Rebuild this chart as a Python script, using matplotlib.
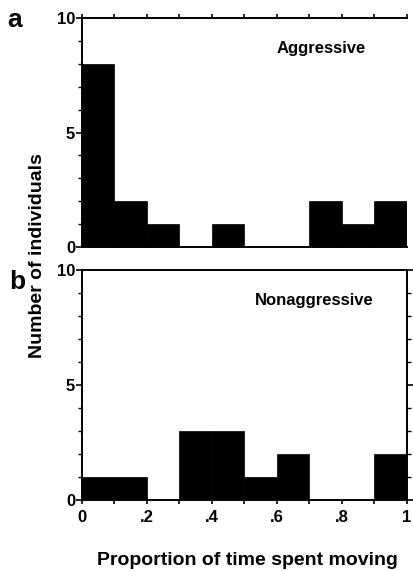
import numpy as np
import matplotlib
matplotlib.use("Agg")
import matplotlib.pyplot as plt
from matplotlib.ticker import MultipleLocator

plt.rcParams["font.family"] = ["Liberation Sans", "DejaVu Sans"]
plt.rcParams["font.weight"] = "bold"

# histogram bins (proportion of time spent moving)
bin_left = [0.0, 0.1, 0.2, 0.3, 0.4, 0.5, 0.6, 0.7, 0.8, 0.9]
bin_width = 0.1

aggressive = [8, 2, 1, 0, 1, 0, 0, 2, 1, 2]
nonaggressive = [1, 1, 0, 3, 3, 1, 2, 0, 0, 2]

x_ticks = [0, 0.2, 0.4, 0.6, 0.8, 1.0]
x_ticklabels = ["0", ".2", ".4", ".6", ".8", "1"]
y_ticks = [0, 5, 10]


def style_axis(ax):
    ax.set_xlim(0, 1)
    ax.set_ylim(0, 10)
    ax.set_yticks(y_ticks)
    ax.yaxis.set_minor_locator(MultipleLocator(1))
    ax.tick_params(axis="y", which="major", direction="out", length=4,
                   width=1.2, labelsize=12, pad=1)
    ax.tick_params(axis="y", which="minor", direction="out", length=3, width=1)
    for s in ax.spines.values():
        s.set_linewidth(1.4)


fig = plt.figure(figsize=(4.14, 5.71), dpi=100)

ax1 = fig.add_axes([0.198, 0.5674, 0.785, 0.401])
ax1.bar(bin_left, aggressive, width=bin_width, align="edge",
        color="black", edgecolor="black", linewidth=0.5)
style_axis(ax1)
ax1.xaxis.set_major_locator(MultipleLocator(0.1))
ax1.spines["right"].set_visible(False)
ax1.tick_params(axis="x", which="major", top=True, bottom=False,
                direction="out", length=3, width=1.2, labelbottom=False)
ax1.text(0.60, 0.869, "Aggressive", transform=ax1.transAxes,
         fontsize=12, fontweight="bold", ha="left", va="center")

ax2 = fig.add_axes([0.198, 0.1243, 0.785, 0.403])
ax2.bar(bin_left, nonaggressive, width=bin_width, align="edge",
        color="black", edgecolor="black", linewidth=0.5)
style_axis(ax2)
ax2.set_xticks(x_ticks)
ax2.set_xticks(np.arange(0.1, 1.0, 0.2), minor=True)
ax2.set_xticklabels(x_ticklabels)
ax2.tick_params(axis="x", which="both", direction="out", length=3,
                width=1.2, labelsize=12, pad=4)
ax2.tick_params(axis="y", which="both", right=True)
ax2.text(0.532, 0.865, "Nonaggressive", transform=ax2.transAxes,
         fontsize=12, fontweight="bold", ha="left", va="center")

fig.text(0.036, 0.965, "a", fontsize=19, fontweight="bold", ha="center", va="center")
fig.text(0.041, 0.506, "b", fontsize=19, fontweight="bold", ha="center", va="center")
fig.text(0.09, 0.553, "Number of individuals", rotation=90, fontsize=14,
         fontweight="bold", ha="center", va="center")
fig.text(0.597, 0.0105, "Proportion of time spent moving", fontsize=14,
         fontweight="bold", ha="center", va="baseline")

fig.savefig("out.png", dpi=100)
